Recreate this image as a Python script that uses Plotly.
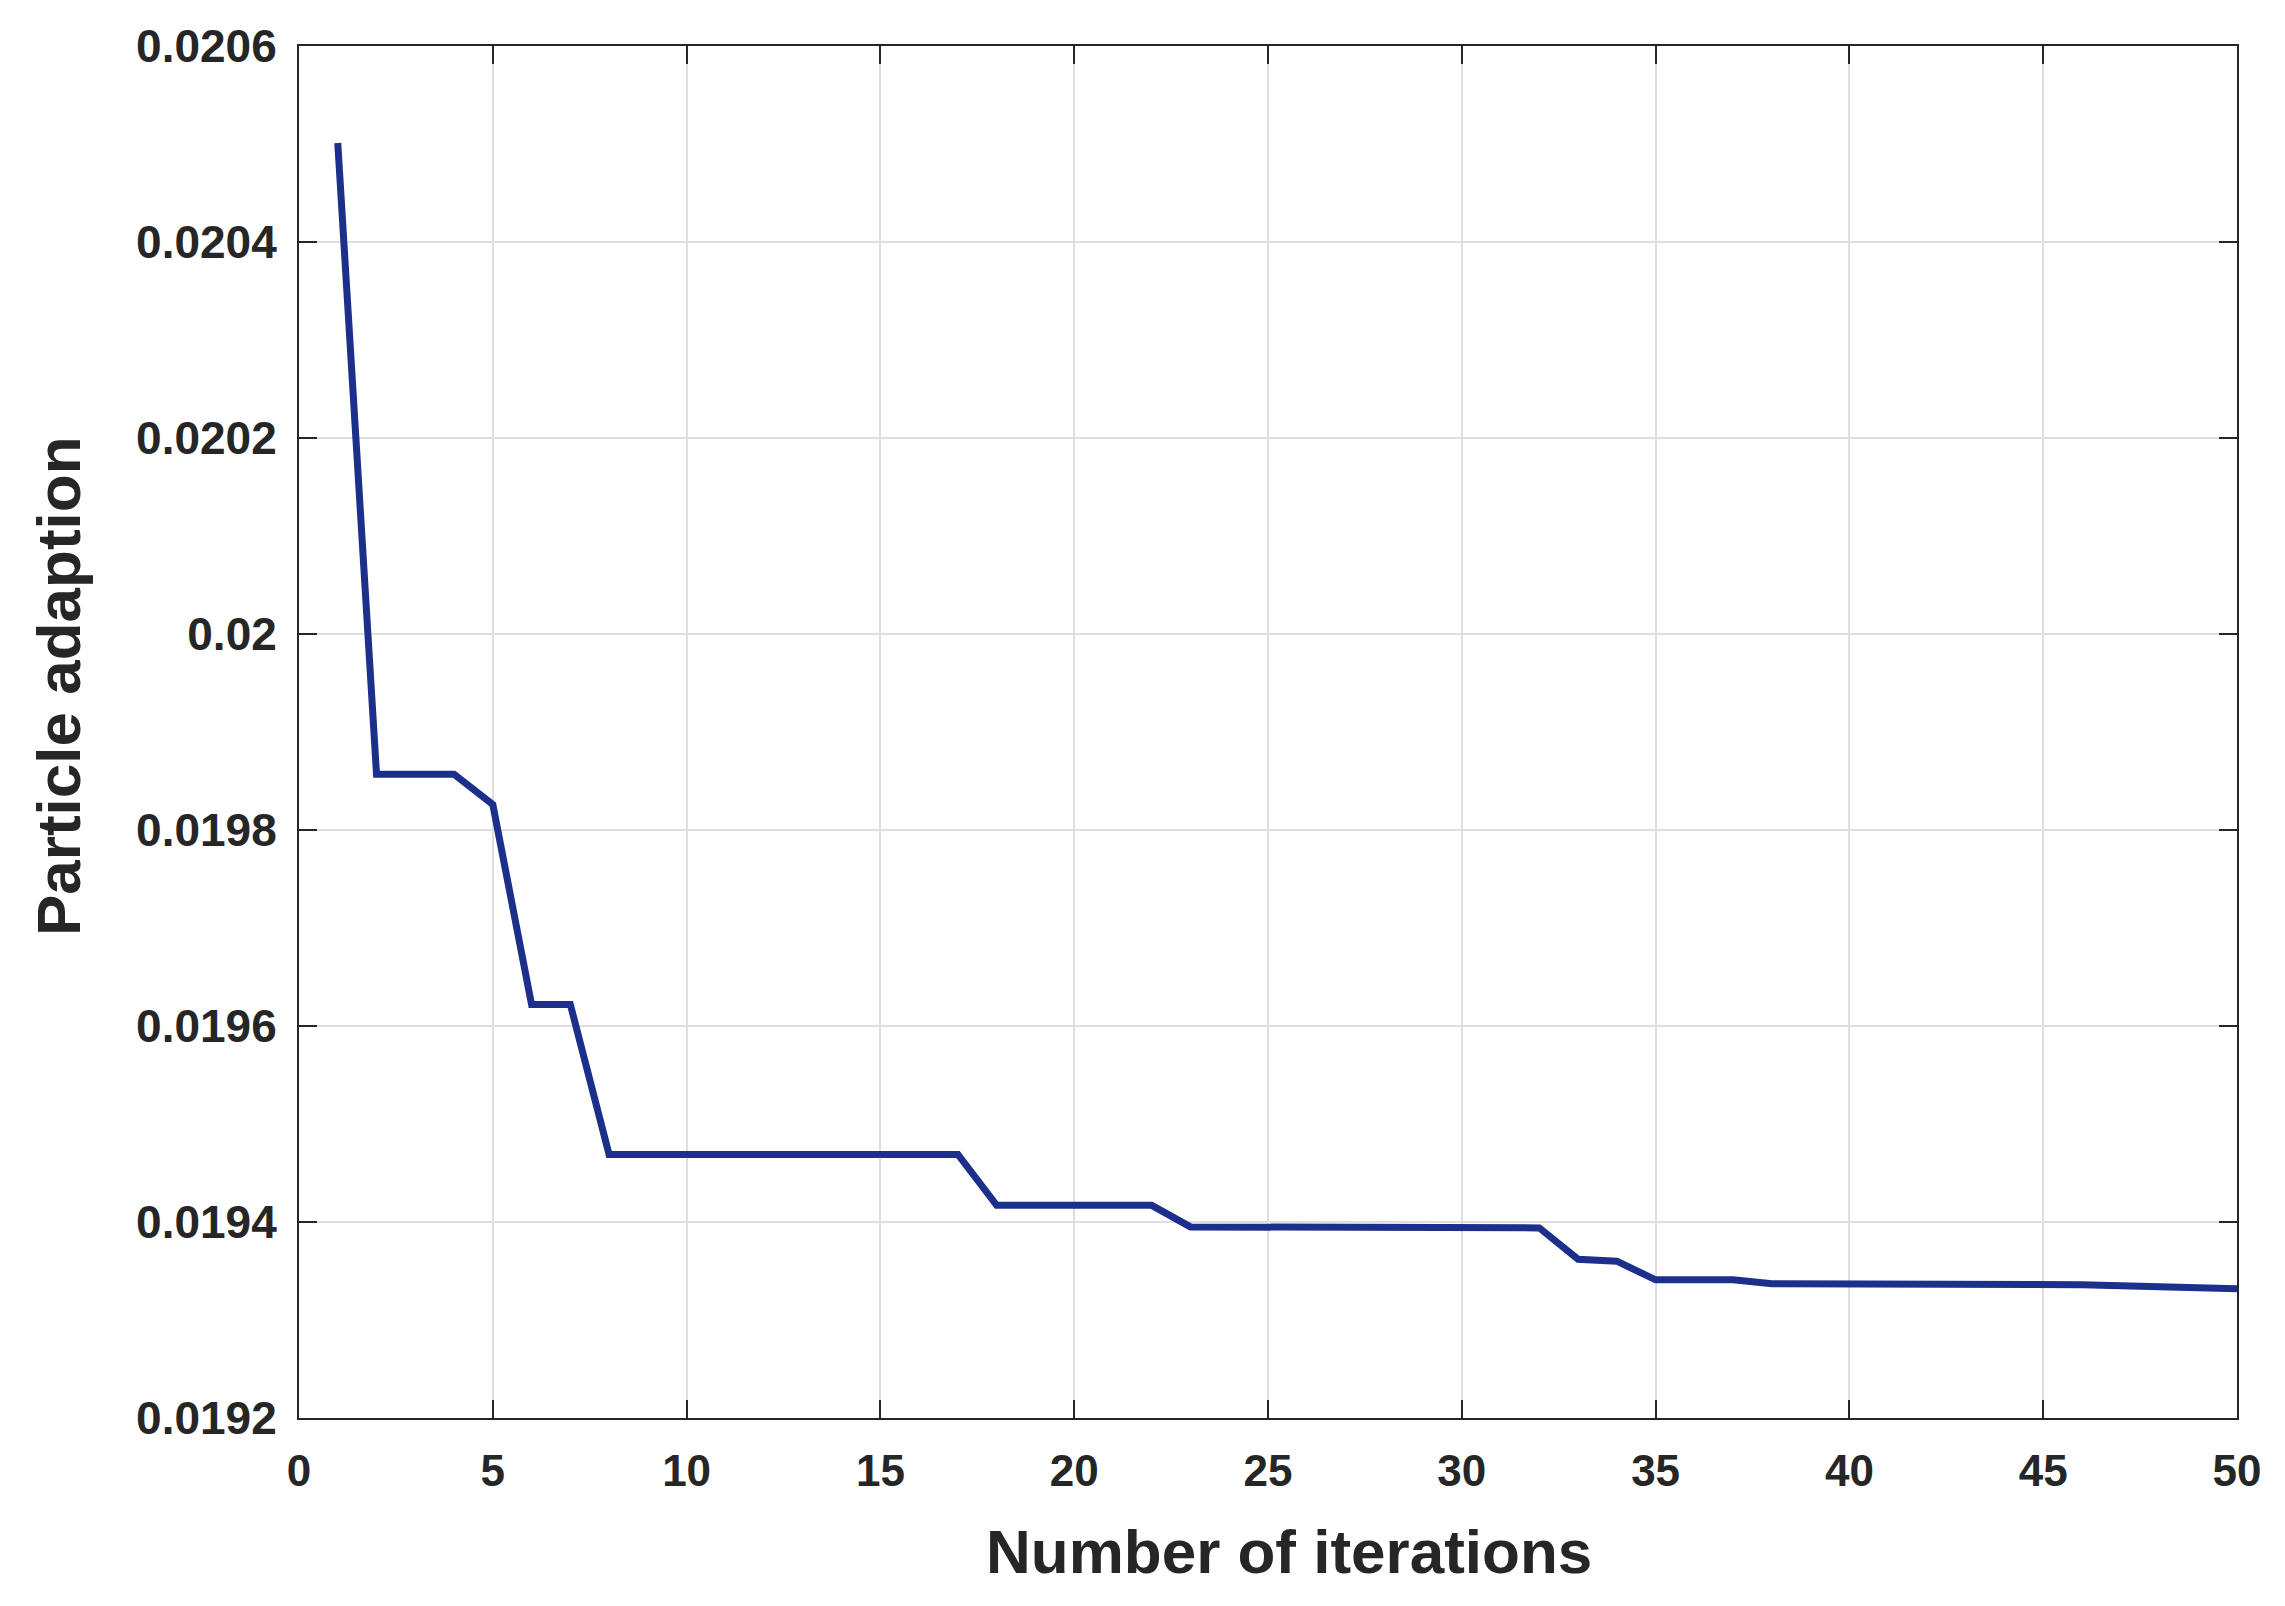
import plotly.graph_objects as go

iterations = list(range(1, 51))
fitness = [
    0.020501, 0.019857, 0.019857, 0.019857, 0.019826,
    0.019622, 0.019622, 0.019469, 0.019469, 0.019469,
    0.019469, 0.019469, 0.019469, 0.019469, 0.019469,
    0.019469, 0.019469, 0.019417, 0.019417, 0.019417,
    0.019417, 0.019417, 0.019395, 0.019395, 0.019395,
    0.019395, 0.019395, 0.019395, 0.019395, 0.019395,
    0.019395, 0.019394, 0.019362, 0.019360, 0.019341,
    0.019341, 0.019341, 0.019337, 0.019337, 0.019337,
    0.019337, 0.019337, 0.019337, 0.019336, 0.019336,
    0.019336, 0.019335, 0.019334, 0.019333, 0.019332,
]

x_ticks = [0, 5, 10, 15, 20, 25, 30, 35, 40, 45, 50]
y_ticks = [0.0192, 0.0194, 0.0196, 0.0198, 0.0200, 0.0202, 0.0204, 0.0206]
y_tick_text = ["0.0192", "0.0194", "0.0196", "0.0198", "0.02", "0.0202", "0.0204", "0.0206"]

x_title = "Number of iterations"
y_title = "Particle adaption"

FONT = "Liberation Sans, Arial, Helvetica, sans-serif"
TXT = "#262626"

fig = go.Figure()
fig.add_trace(go.Scatter(
    x=iterations, y=fitness, mode="lines",
    line=dict(color="#1c2f8a", width=7),
    showlegend=False,
))

axis_common = dict(
    showline=True, linecolor="#262626", linewidth=2, mirror="ticks",
    ticks="inside", ticklen=18, tickwidth=2, tickcolor="#262626",
    showgrid=True, gridcolor="#dedede", gridwidth=1.5,
    zeroline=False,
)

fig.update_xaxes(
    range=[0, 50], tickvals=x_ticks, ticktext=[str(v) for v in x_ticks],
    ticklabelstandoff=13,
    tickfont=dict(family=FONT, size=44, color=TXT, weight="bold"),
    **axis_common,
)
fig.update_yaxes(
    range=[0.0192, 0.0206], tickvals=y_ticks, ticktext=y_tick_text,
    ticklabelstandoff=11,
    tickfont=dict(family=FONT, size=46, color=TXT, weight="bold"),
    **axis_common,
)

# page body has an 8px default margin; figure is placed so the plot area
# lands at page x 299..2237, y 44..1418
W, H = 2277, 1598
L, R, T, B = 291, 48, 36, 188
pw, ph = W - L - R, H - T - B
OFF = 8

fig.add_annotation(
    text=x_title, xref="paper", yref="paper",
    x=(1289 - OFF - L) / pw, y=(H - B - (1552 - OFF)) / ph,
    xanchor="center", yanchor="middle", showarrow=False,
    font=dict(family=FONT, size=62, color=TXT, weight="bold"),
)
fig.add_annotation(
    text=y_title, xref="paper", yref="paper",
    x=(58 - OFF - L) / pw, y=(H - B - (685 - OFF)) / ph,
    xanchor="center", yanchor="middle", textangle=-90, showarrow=False,
    font=dict(family=FONT, size=62, color=TXT, weight="bold"),
)

fig.update_layout(
    width=W, height=H,
    margin=dict(l=L, r=R, t=T, b=B, pad=0),
    paper_bgcolor="white", plot_bgcolor="white",
)

fig.write_html("out.html")
